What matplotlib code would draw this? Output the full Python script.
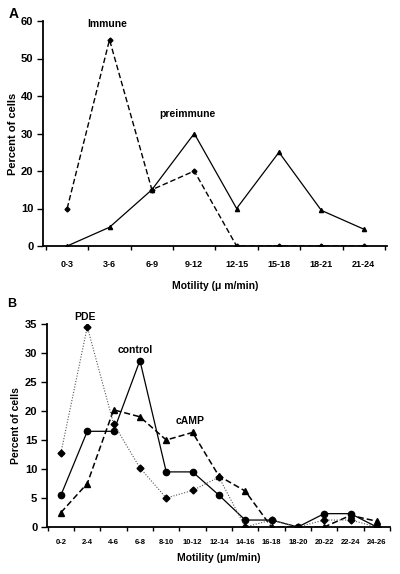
import matplotlib
matplotlib.use("Agg")
import matplotlib.pyplot as plt

plt.rcParams['font.family'] = ['Liberation Sans', 'DejaVu Sans']

# Panel A data
cats_a = ["0-3", "3-6", "6-9", "9-12", "12-15", "15-18", "18-21", "21-24"]
preimmune = [0, 5, 15, 30, 10, 25, 9.5, 4.5]
immune = [10, 55, 15, 20, 0, 0, 0, 0]

# Panel B data
cats_b = ["0-2", "2-4", "4-6", "6-8", "8-10", "10-12", "12-14", "14-16",
          "16-18", "18-20", "20-22", "22-24", "24-26"]
control = [5.5, 16.5, 16.5, 28.7, 9.5, 9.5, 5.5, 1.2, 1.2, 0, 2.3, 2.3, 0]
camp = [2.5, 7.5, 20.2, 19, 15, 16.3, 8.8, 6.2, 0, 0, 0, 2, 1]
pde = [12.8, 34.5, 17.8, 10.2, 5, 6.3, 8.6, 0, 1.2, 0, 1.2, 1.2, 0]

W, H = 400, 574
fig = plt.figure(figsize=(W / 100, H / 100), dpi=100)


def px_axes(l, r, t, b):
    return fig.add_axes([l / W, 1 - b / H, (r - l) / W, (b - t) / H])


def style(ax, n, pad):
    for s in ("top", "right"):
        ax.spines[s].set_visible(False)
    ax.spines["left"].set_linewidth(1.3)
    ax.spines["bottom"].set_linewidth(1.3)
    ax.set_xticks(range(n))
    ax.set_xticks([i + 0.5 for i in range(-1, n)], minor=True)
    ax.tick_params(axis="x", which="major", length=0, pad=pad)
    ax.tick_params(axis="x", which="minor", length=3, width=1, direction="out")
    ax.tick_params(axis="y", length=4, width=1, direction="out", pad=3)
    for lab in ax.get_yticklabels():
        lab.set_fontweight("bold")
    for lab in ax.get_xticklabels():
        lab.set_fontweight("bold")


# Panel A
axA = px_axes(43, 387, 21, 246)
xa = range(len(cats_a))
axA.plot(xa, preimmune, color="black", lw=0.9, ls="-", marker="^", ms=3)
axA.plot(xa, immune, color="black", lw=1.0, ls=(0, (4, 2)), marker="D", ms=2.5)
axA.set_xlim(-0.57, 7.55)
axA.set_ylim(0, 60)
axA.set_yticks(range(0, 61, 10))
axA.set_xticklabels(cats_a, fontsize=6.5)
axA.tick_params(axis="y", labelsize=8)
style(axA, len(cats_a), 10)
axA.set_ylabel("Percent of cells", fontsize=8, fontweight="bold", labelpad=2)
axA.set_xlabel("Motility (μ m/min)", fontsize=7.5, fontweight="bold", labelpad=9)
axA.text(0.94, 59.2, "Immune", fontsize=7.5, fontweight="bold", ha="center", va="center")
axA.text(2.85, 35.2, "preimmune", fontsize=7.5, fontweight="bold", ha="center", va="center")
fig.text(14 / W, 1 - 14 / H, "A", fontsize=10, fontweight="bold", ha="center", va="center")

# Panel B
axB = px_axes(47, 390, 324, 527)
xb = range(len(cats_b))
axB.plot(xb, control, color="black", lw=0.9, ls="-", marker="o", ms=4.5)
axB.plot(xb, camp, color="black", lw=1.1, ls=(0, (4, 2)), marker="^", ms=5)
axB.plot(xb, pde, color="#555555", lw=0.8, ls=(0, (1, 1.5)), marker="D", ms=3.5,
         mfc="black", mec="black")
axB.set_xlim(-0.53, 12.5)
axB.set_ylim(0, 35)
axB.set_yticks(range(0, 36, 5))
axB.set_xticklabels(cats_b, fontsize=5.5)
axB.tick_params(axis="y", labelsize=8)
style(axB, len(cats_b), 9)
axB.set_ylabel("Percent of cells", fontsize=7.5, fontweight="bold", labelpad=3)
axB.set_xlabel("Motility (μm/min)", fontsize=7.5, fontweight="bold", labelpad=5)
axB.text(0.91, 36.2, "PDE", fontsize=7.5, fontweight="bold", ha="center", va="center")
axB.text(2.81, 30.5, "control", fontsize=7.5, fontweight="bold", ha="center", va="center")
axB.text(4.9, 18.3, "cAMP", fontsize=7.5, fontweight="bold", ha="center", va="center")
fig.text(12 / W, 1 - 304 / H, "B", fontsize=9, fontweight="bold", ha="center", va="center")

fig.savefig("out.png", dpi=100)
